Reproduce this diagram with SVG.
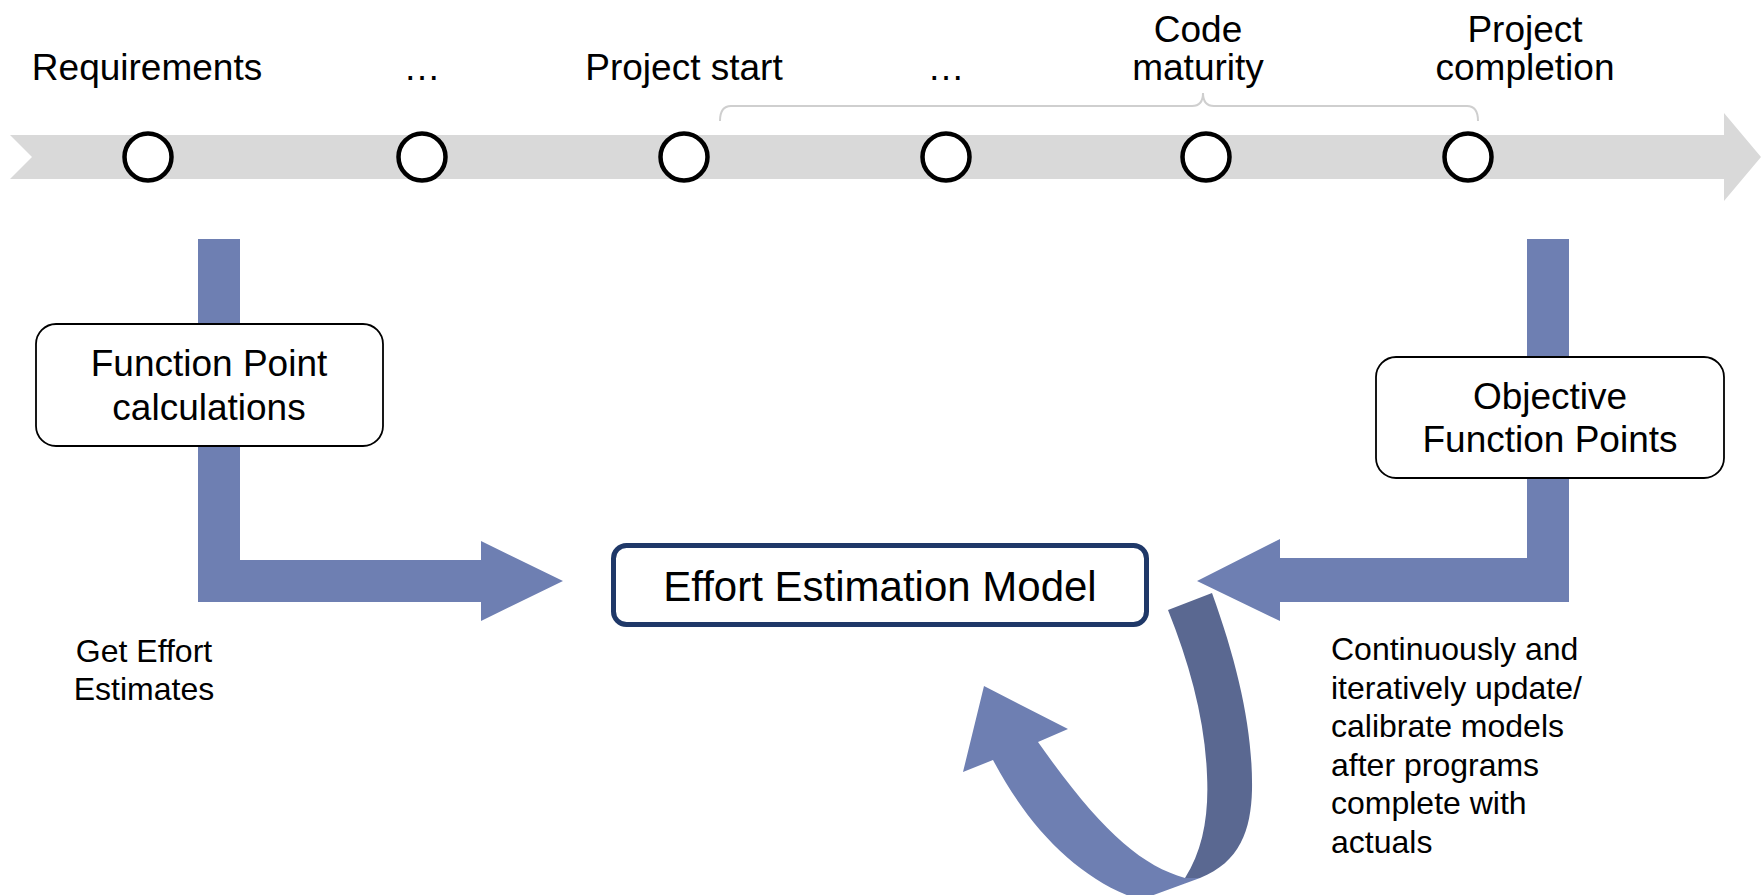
<svg xmlns="http://www.w3.org/2000/svg" width="1761" height="895" viewBox="0 0 1761 895">
<style>
  text { font-family: "Liberation Sans", Arial, sans-serif; fill: #000; }
  .lbl { font-size: 37px; text-anchor: middle; }
  .box { font-size: 37px; text-anchor: middle; }
  .note { font-size: 32px; }
  .ms { fill: #fff; stroke: #000; stroke-width: 4.5; }
  .rbox { fill: #fff; stroke: #000; stroke-width: 1.8; }
  .flow { fill: #6e7fb2; }
  .flowdark { fill: #5a6891; }
</style>
<rect width="1761" height="895" fill="#fff"/>

<g id="timeline">
  <polygon points="10,135 1724,135 1724,113 1761,157 1724,201 1724,179 10,179 32,157" fill="#d9d9d9"/>
  <path d="M720,121 Q720,106 731,106 L1192,106 Q1203,106 1203,93 Q1203,106 1214,106 L1467,106 Q1478,106 1478,121" fill="none" stroke="#cfcfcf" stroke-width="2"/>
</g>

<g id="connectors">
  <path class="flow" d="M198,239 L240,239 L240,560 L481,560 L481,541 L563,581 L481,621 L481,602 L198,602 Z"/>
  <path class="flow" d="M1569,239 L1527,239 L1527,558 L1280,558 L1280,539 L1197,581 L1280,621 L1280,602 L1569,602 Z"/>
  <path class="flowdark" d="M1168,610 L1212,593 C1238,665 1253,730 1252,790 C1251,830 1240,862 1200,878 L1185,878 C1203,850 1209,815 1207,775 C1205,720 1190,665 1168,610 Z"/>
  <path class="flow" d="M1185,878 C1140,865 1100,830 1038,742 L1068,729 L984,686 L963,772 L993,760 C1030,830 1080,880 1140,900 L1200,878 Z"/>
</g>

<g id="milestone-requirements">
  <circle class="ms" cx="148" cy="157" r="23.5"/>
  <text class="lbl" x="147" y="80">Requirements</text>
</g>
<g id="milestone-2">
  <circle class="ms" cx="422" cy="157" r="23.5"/>
  <text class="lbl" x="422" y="80">…</text>
</g>
<g id="milestone-project-start">
  <circle class="ms" cx="684" cy="157" r="23.5"/>
  <text class="lbl" x="684" y="80">Project start</text>
</g>
<g id="milestone-4">
  <circle class="ms" cx="946" cy="157" r="23.5"/>
  <text class="lbl" x="946" y="80">…</text>
</g>
<g id="milestone-code-maturity">
  <circle class="ms" cx="1206" cy="157" r="23.5"/>
  <text class="lbl" x="1198" y="42">Code</text>
  <text class="lbl" x="1198" y="80">maturity</text>
</g>
<g id="milestone-project-completion">
  <circle class="ms" cx="1468" cy="157" r="23.5"/>
  <text class="lbl" x="1525" y="42">Project</text>
  <text class="lbl" x="1525" y="80">completion</text>
</g>

<g id="function-point-calculations">
  <rect class="rbox" x="36" y="324" width="347" height="122" rx="20"/>
  <text class="box" x="209" y="376">Function Point</text>
  <text class="box" x="209" y="420">calculations</text>
</g>

<g id="objective-function-points">
  <rect class="rbox" x="1376" y="357" width="348" height="121" rx="20"/>
  <text class="box" x="1550" y="409">Objective</text>
  <text class="box" x="1550" y="452">Function Points</text>
</g>

<g id="effort-estimation-model">
  <rect x="613.5" y="545.5" width="533" height="79" rx="13" fill="#fff" stroke="#1f3868" stroke-width="5"/>
  <text x="880" y="601" style="font-size:42px;text-anchor:middle">Effort Estimation Model</text>
</g>

<g id="note-get-effort">
  <text class="note" x="144" y="662" text-anchor="middle">Get Effort</text>
  <text class="note" x="144" y="700" text-anchor="middle">Estimates</text>
</g>

<g id="note-calibrate">
  <text class="note" x="1331" y="660">Continuously and</text>
  <text class="note" x="1331" y="698.5">iteratively update/</text>
  <text class="note" x="1331" y="737">calibrate models</text>
  <text class="note" x="1331" y="775.5">after programs</text>
  <text class="note" x="1331" y="814">complete with</text>
  <text class="note" x="1331" y="852.5">actuals</text>
</g>
</svg>
